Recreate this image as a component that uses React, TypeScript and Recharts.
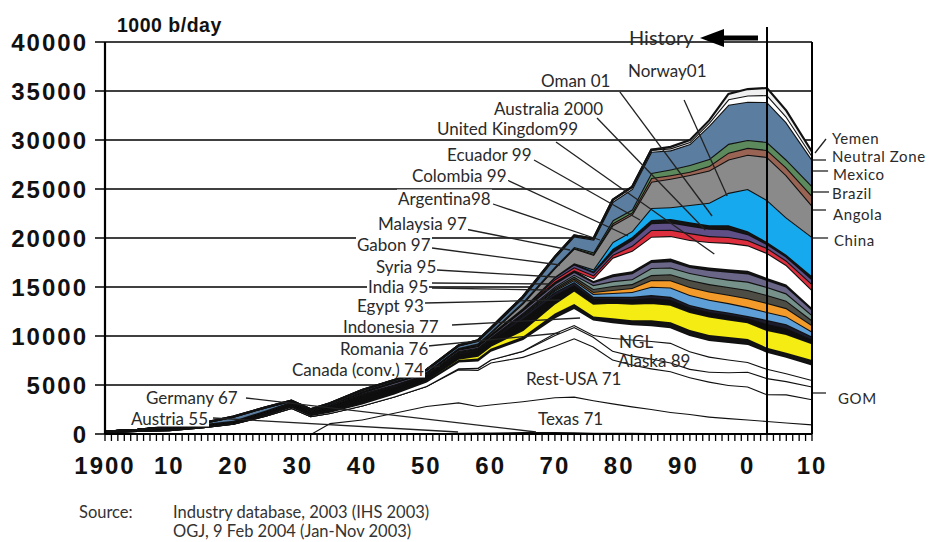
import React from 'react';
import { AreaChart, Area, XAxis, YAxis, CartesianGrid, ReferenceLine } from 'recharts';

// ---- data (1000 b/day) ----
const years = [1900,1905,1910,1915,1920,1925,1929,1932,1935,1940,1945,1950,1955,1958,1960,1965,1970,1973,1976,1979,1982,1985,1988,1991,1994,1997,2000,2003,2006,2010];

const austria = [0,0,0,0,0,0,0,0,0,10,10,30,70,60,50,50,50,40,40,35,30,30,25,25,20,20,20,20,20,15];
const germany = [0,0,0,0,0,0,0,0,10,20,15,25,60,100,110,150,150,130,100,95,90,80,75,65,60,55,60,65,60,50];
const texas = [0,0,0,0,0,0,0,0,1100,1450,2150,2800,3100,2700,2850,3150,3550,3650,3300,3000,2700,2450,2150,1950,1700,1550,1400,1250,1100,920];
const restUSA = [170,320,400,670,1060,1880,2670,1830,1040,1430,1650,2040,3370,3690,4290,4520,5250,5950,5480,4470,4280,4140,4150,3760,3570,3380,3370,2720,2870,2570];
const gom = [0,0,0,0,0,0,0,0,0,0,0,0,100,200,300,600,1100,1150,1000,900,900,1000,900,850,1000,1300,1500,1650,1350,1300];
const alaska = [0,0,0,0,0,0,0,0,0,0,0,0,0,0,0,30,200,200,180,1300,1650,1800,2000,1800,1550,1300,1000,950,800,650];
const ngl = [0,0,0,10,30,60,120,110,130,220,320,450,700,750,900,1200,1600,1750,1600,1600,1550,1600,1600,1650,1700,1800,1850,1750,1700,1600];
const romania = [20,40,60,60,50,70,100,150,170,120,100,100,150,200,200,230,400,400,300,400,400,500,500,500,500,500,500,400,400,450];
const canada = [0,0,0,0,0,0,0,0,0,0,0,30,150,300,300,680,1040,1390,1300,1600,1700,1770,1800,1850,1900,1800,1700,1810,1900,1700];
const indonesia = [60,50,220,200,150,250,250,190,400,700,600,500,500,550,550,1150,850,550,500,400,450,500,500,450,450,450,400,620,600,400];
const egypt = [0,0,20,30,20,30,20,20,30,100,150,100,100,100,100,300,300,300,200,200,250,310,300,260,250,250,250,400,400,300];
const india = [0,0,0,0,0,0,0,0,0,0,0,0,50,50,60,100,150,200,300,400,500,850,950,1020,1000,950,900,820,800,500];
const syria = [0,0,0,0,0,0,0,0,0,0,0,0,50,50,50,60,100,150,200,300,400,680,750,820,850,850,900,920,850,650];
const gabon = [0,0,0,0,0,0,0,0,0,0,0,0,0,0,20,50,150,200,300,400,400,510,600,710,750,800,850,810,750,500];
const malaysia = [0,0,0,0,0,0,0,0,0,70,60,60,60,60,60,80,150,200,400,500,500,720,700,720,750,750,850,820,750,550];
const argentina = [0,0,20,30,30,60,60,70,80,100,180,100,150,150,180,250,300,300,300,500,600,620,650,610,700,800,850,720,700,550];
const colombia = [0,0,0,0,0,50,60,60,60,150,150,100,120,120,150,200,200,150,100,200,200,200,250,200,250,250,250,200,200,150];
const uk = [0,0,0,0,0,0,0,0,0,0,0,0,0,0,0,0,0,0,300,1700,2100,2370,2300,2560,2600,2700,2600,2550,2000,1850];
const australia = [0,0,0,0,0,0,0,0,0,0,0,0,0,0,0,20,250,300,300,300,500,690,650,700,600,600,550,510,450,600];
const oman = [0,0,0,0,0,0,0,0,0,0,0,0,0,0,0,0,200,300,300,300,600,700,750,750,750,800,600,400,400,500];
const ecuador = [0,0,0,0,0,0,0,0,0,0,0,0,0,0,20,10,60,80,100,300,300,320,350,350,350,400,300,210,200,300];
const norway = [0,0,0,0,0,0,0,0,0,0,0,0,0,0,0,0,0,30,200,700,600,1220,1200,1770,2300,3300,4300,4290,3800,4000];
const china = [0,0,0,0,0,0,0,0,0,0,0,0,50,100,150,500,900,1510,1500,1700,1700,2690,2900,3060,3300,3400,3500,4390,4300,3200];
const angola = [0,0,0,0,0,0,0,0,0,0,0,0,0,0,0,20,50,50,100,200,200,370,350,340,450,700,700,710,800,1000];
const brazil = [0,0,0,0,0,0,0,0,0,0,0,0,0,50,80,100,70,100,150,300,300,510,600,680,700,900,800,820,800,1000];
const mexico = [0,10,30,90,430,320,120,90,110,120,120,200,250,270,300,460,930,1090,1300,1900,2100,2170,1950,2150,3400,4000,3900,4080,3800,2700];
const neutralZone = [0,0,0,0,0,0,0,0,0,0,0,0,0,50,100,100,100,100,100,200,200,200,200,200,300,550,650,700,600,400];
const yemen = [0,0,0,0,0,0,0,0,0,0,0,0,0,0,0,0,0,0,0,0,0,0,150,200,250,550,650,720,600,400];

// ---- axes ----
const yTicks = [0,5000,10000,15000,20000,25000,30000,35000,40000];
const xLabelYears = [1900,1910,1920,1930,1940,1950,1960,1970,1980,1990,2000,2010];
const xTickLabels = ['1900','10','20','30','40','50','60','70','80','90','0','10'];
const yearTicks = Array.from({ length: 111 }, (_, i) => 1900 + i);

// ---- series (stack order bottom -> top) ----
const series = [
  { key: 'Austria', values: austria, fill: '#2b2b2b' },
  { key: 'Germany', values: germany, fill: '#2b2b2b' },
  { key: 'Texas', values: texas, fill: '#ffffff' },
  { key: 'Rest-USA', values: restUSA, fill: '#ffffff' },
  { key: 'GOM', values: gom, fill: '#ffffff' },
  { key: 'Alaska', values: alaska, fill: '#ffffff' },
  { key: 'NGL', values: ngl, fill: '#ffffff' },
  { key: 'Romania', values: romania, fill: '#121212' },
  { key: 'Canada (conv.)', values: canada, fill: '#f4ec12' },
  { key: 'Indonesia', values: indonesia, fill: '#0e0e0e' },
  { key: 'Egypt', values: egypt, fill: '#1b1b2c' },
  { key: 'India', values: india, fill: '#5d9fd6' },
  { key: 'Syria', values: syria, fill: '#f29b2a' },
  { key: 'Gabon', values: gabon, fill: '#4d4d45' },
  { key: 'Malaysia', values: malaysia, fill: '#76908a' },
  { key: 'Argentina', values: argentina, fill: '#6a6688' },
  { key: 'Colombia', values: colombia, fill: '#141414' },
  { key: 'United Kingdom', values: uk, fill: '#ffffff' },
  { key: 'Australia', values: australia, fill: '#dd2e3e' },
  { key: 'Oman', values: oman, fill: '#5e4f86' },
  { key: 'Ecuador', values: ecuador, fill: '#141414' },
  { key: 'Norway', values: norway, fill: '#16a9ee' },
  { key: 'China', values: china, fill: '#8a8a8a' },
  { key: 'Angola', values: angola, fill: '#9a6454' },
  { key: 'Brazil', values: brazil, fill: '#5c8a5c' },
  { key: 'Mexico', values: mexico, fill: '#5a7da0' },
  { key: 'Neutral Zone', values: neutralZone, fill: '#ffffff' },
  { key: 'Yemen', values: yemen, fill: '#f0f0f0' },
];

const rows = years.map((year, i) => {
  const r: Record<string, number> = { year };
  series.forEach((s) => { r[s.key] = s.values[i]; });
  return r;
});

// ---- annotations: leader lines in data coordinates [year, value, year, value] ----
const leaders: [number, number, number, number][] = [
  [1980.1, 34900, 1994.45, 22245],
  [1990.1, 34080, 1996.8, 24290],
  [1976.55, 32245, 1993.4, 20816],
  [1970.17, 29796, 1994.8, 18367],
  [1966.75, 27959, 1983.24, 21837],
  [1962.55, 25918, 1981.37, 20204],
  [1960.37, 23469, 1977.02, 19796],
  [1956.0, 20918, 1972.35, 18775],
  [1950.88, 18979, 1970.8, 17245],
  [1951.66, 16735, 1970.02, 16020],
  [1950.88, 15408, 1968.93, 15306],
  [1950.88, 14898, 1968.93, 14694],
  [1949.79, 13367, 1970.8, 13673],
  [1953.99, 11122, 1973.91, 11837],
  [1950.26, 8980, 1970.8, 10306],
  [1950.1, 6735, 1952.1, 6939],
  [1921.94, 3673, 1967.06, 204],
  [1916.8, 1633, 1954.93, 204],
  // right-hand pointers
  [2010.47, 28673, 2012.18, 30102],
  [2010.16, 27959, 2012.18, 27959],
  [2010.16, 26837, 2012.5, 26837],
  [2010.16, 24694, 2012.65, 24694],
  [2010.16, 22857, 2012.18, 22857],
  [2010.16, 20000, 2012.5, 20000],
  [2010.0, 4184, 2012.18, 4184],
];

type Lbl = { text: string; left: number; cy: number; bg: boolean; size?: number };
const labels: Lbl[] = [
  { text: 'Norway01', left: 627, cy: 70, bg: true },
  { text: 'Oman 01', left: 540, cy: 80, bg: true },
  { text: 'Australia 2000', left: 493, cy: 108, bg: true },
  { text: 'United Kingdom99', left: 436, cy: 128, bg: true },
  { text: 'Ecuador 99', left: 446, cy: 154, bg: true },
  { text: 'Colombia 99', left: 411, cy: 175, bg: true },
  { text: 'Argentina98', left: 397, cy: 198, bg: true },
  { text: 'Malaysia 97', left: 377, cy: 223, bg: true },
  { text: 'Gabon 97', left: 356, cy: 244, bg: true },
  { text: 'Syria 95', left: 375, cy: 266, bg: true },
  { text: 'India 95', left: 367, cy: 286, bg: true },
  { text: 'Egypt 93', left: 356, cy: 305, bg: true },
  { text: 'Indonesia 77', left: 342, cy: 326, bg: true },
  { text: 'Romania 76', left: 339, cy: 348, bg: true },
  { text: 'Canada (conv.) 74', left: 291, cy: 369, bg: true },
  { text: 'NGL', left: 618, cy: 341, bg: false },
  { text: 'Alaska 89', left: 617, cy: 360, bg: false },
  { text: 'Rest-USA 71', left: 525, cy: 378, bg: false },
  { text: 'Texas 71', left: 537, cy: 418, bg: false },
  { text: 'Germany 67', left: 145, cy: 397, bg: true },
  { text: 'Austria 55', left: 130, cy: 418, bg: true },
  { text: 'Yemen', left: 831, cy: 138, bg: false, size: 15 },
  { text: 'Neutral Zone', left: 831, cy: 156, bg: false, size: 15 },
  { text: 'Mexico', left: 832, cy: 174, bg: false, size: 15 },
  { text: 'Brazil', left: 831, cy: 193, bg: false, size: 15 },
  { text: 'Angola', left: 832, cy: 214, bg: false, size: 15 },
  { text: 'China', left: 833, cy: 240, bg: false, size: 15 },
  { text: 'GOM', left: 837, cy: 398, bg: false, size: 15 },
  { text: 'History', left: 628, cy: 37, bg: false, size: 20 },
];

const fmtX = (v: number) => {
  const i = xLabelYears.indexOf(v);
  return i >= 0 ? xTickLabels[i] : '';
};

const axisFont = { fontSize: 24, fontWeight: 700, fill: '#111', fontFamily: 'Liberation Sans, Arial, sans-serif', letterSpacing: 2 };
const srcStyle: React.CSSProperties = { position: 'absolute', top: 503, fontFamily: 'Lato, sans-serif', fontSize: 16.5, lineHeight: '19px', color: '#333', whiteSpace: 'nowrap' };

export default function App() {
  return (
    <div style={{ position: 'absolute', left: 0, top: 0, width: 929, height: 542, background: '#fff', overflow: 'hidden' }}>
      <AreaChart width={929} height={542} data={rows} margin={{ top: 42, right: 117, bottom: 48, left: 5 }}>
        <CartesianGrid vertical={false} stroke="#000" strokeWidth={1.5} />
        <XAxis
          dataKey="year"
          type="number"
          domain={[1900, 2010]}
          ticks={yearTicks}
          interval={0}
          tickFormatter={fmtX}
          height={60}
          tickSize={7}
          tickMargin={16}
          tick={axisFont}
          axisLine={{ stroke: '#000', strokeWidth: 2.2 }}
          tickLine={{ stroke: '#000', strokeWidth: 1.3 }}
          allowDataOverflow
        />
        <YAxis
          type="number"
          domain={[0, 40000]}
          ticks={yTicks}
          interval={0}
          width={100}
          tickSize={10}
          tickMargin={7}
          tick={axisFont}
          axisLine={{ stroke: '#000', strokeWidth: 2.2 }}
          tickLine={{ stroke: '#000', strokeWidth: 1.5 }}
          allowDataOverflow
        />
        {series.map((s) => (
          <Area
            key={s.key}
            dataKey={s.key}
            stackId="1"
            type="linear"
            fill={s.fill}
            fillOpacity={1}
            stroke="#111"
            strokeWidth={2.2}
            isAnimationActive={false}
            dot={false}
            activeDot={false}
          />
        ))}
        {leaders.map((l, i) => (
          <ReferenceLine
            key={'ld' + i}
            segment={[{ x: l[0], y: l[1] }, { x: l[2], y: l[3] }]}
            stroke="#222"
            strokeWidth={1.3}
            ifOverflow="visible"
          />
        ))}
        <ReferenceLine segment={[{ x: 2003, y: 0 }, { x: 2003, y: 41530 }]} stroke="#000" strokeWidth={2} ifOverflow="visible" />
        <ReferenceLine segment={[{ x: 2010, y: 0 }, { x: 2010, y: 40000 }]} stroke="#000" strokeWidth={2} ifOverflow="visible" />
      </AreaChart>

      {labels.map((l) => (
        <div
          key={l.text}
          style={{
            position: 'absolute',
            left: l.left,
            top: l.cy,
            transform: 'translateY(-50%)',
            fontFamily: 'Lato, "Open Sans", sans-serif',
            fontSize: l.size || 17,
            letterSpacing: l.size === 15 ? 0.6 : 0,
            lineHeight: (l.size || 17) + 'px',
            color: '#2a2a2a',
            background: l.bg ? '#fff' : 'transparent',
            whiteSpace: 'nowrap',
            padding: '0 1px',
          }}
        >
          {l.text}
        </div>
      ))}

      <div style={{ position: 'absolute', left: 117, top: 14, fontFamily: 'Liberation Sans, Arial, sans-serif', fontWeight: 700, fontSize: 19.5, letterSpacing: 0.5, lineHeight: '22px', color: '#111' }}>
        1000 b/day
      </div>

      <svg width={929} height={542} style={{ position: 'absolute', left: 0, top: 0, pointerEvents: 'none' }}>
        <polygon points="700,38 724,29 724,47" fill="#000" />
        <rect x={722} y={35.5} width={36} height={5} fill="#000" />
      </svg>

      <div style={{ ...srcStyle, left: 79 }}>Source:</div>
      <div style={{ ...srcStyle, left: 173 }}>
        Industry database, 2003 (IHS 2003)
        <br />
        OGJ, 9 Feb 2004 (Jan-Nov 2003)
      </div>
    </div>
  );
}
